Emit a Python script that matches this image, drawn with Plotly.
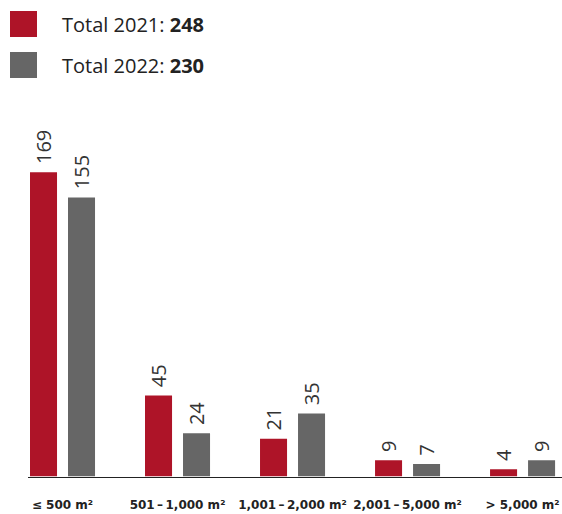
import plotly.graph_objects as go

categories = ["≤ 500 m²", "501\u2009–\u20091,000 m²", "1,001\u2009–\u20092,000 m²", "2,001\u2009–\u20095,000 m²", "> 5,000 m²"]
values_2021 = [169, 45, 21, 9, 4]
values_2022 = [155, 24, 35, 7, 9]
series_names = ["Total 2021", "Total 2022"]
totals = [248, 230]

RED = "#AE1428"
GRAY = "#666666"
W, H = 562, 514
FONT = "Open Sans"

fig = go.Figure()
for name, vals, col, off in [(series_names[0], values_2021, RED, -0.2826),
                             (series_names[1], values_2022, GRAY, 0.0478)]:
    fig.add_trace(go.Bar(
        x=list(range(len(categories))), y=vals, name=name,
        marker=dict(color=col, line=dict(width=0)),
        width=0.235, offset=off,
        text=["\u00a0" + str(v) for v in vals], textposition="outside", textangle=-90,
        textfont=dict(family=FONT, size=20, color="#333333"),
        constraintext="none",
        cliponaxis=False, hoverinfo="skip",
    ))

# legend drawn as squares + text
for i, (name, tot, col) in enumerate(zip(series_names, totals, [RED, GRAY])):
    y0 = 11 + i * 41
    fig.add_shape(type="rect", xref="paper", yref="paper",
                  x0=10 / W, x1=37 / W, y0=1 - (y0 + 26) / H, y1=1 - y0 / H,
                  fillcolor=col, line=dict(width=0))
    fig.add_annotation(xref="paper", yref="paper", x=60 / W, y=1 - (y0 + 13) / H,
                       xanchor="left", yanchor="middle", showarrow=False,
                       text=f"{name}: <b>{tot}</b>",
                       font=dict(family=FONT, size=20, color="#222222"))

fig.update_layout(
    width=W, height=H, margin=dict(l=0, r=0, t=0, b=0),
    paper_bgcolor="white", plot_bgcolor="white", showlegend=False,
    uniformtext=dict(mode=False),
    xaxis=dict(domain=[28 / W, 1], range=[-0.3, 4.343],
               tickmode="array", tickvals=list(range(len(categories))),
               ticktext=[f"<b>{c}</b>" for c in categories],
               tickfont=dict(family="DejaVu Sans", size=12, color="#222222"),
               showline=True, linecolor="#222222", linewidth=1,
               showgrid=False, zeroline=False, ticks="", ticklabelstandoff=17),
    yaxis=dict(domain=[(H - 476.5) / H, (H - 99.5) / H], range=[0, 209.4],
               visible=False, showgrid=False, zeroline=False),
)

fig.write_html("out.html", config={"displayModeBar": False},
               post_script="document.body.style.margin='0';document.body.style.overflow='hidden';")
